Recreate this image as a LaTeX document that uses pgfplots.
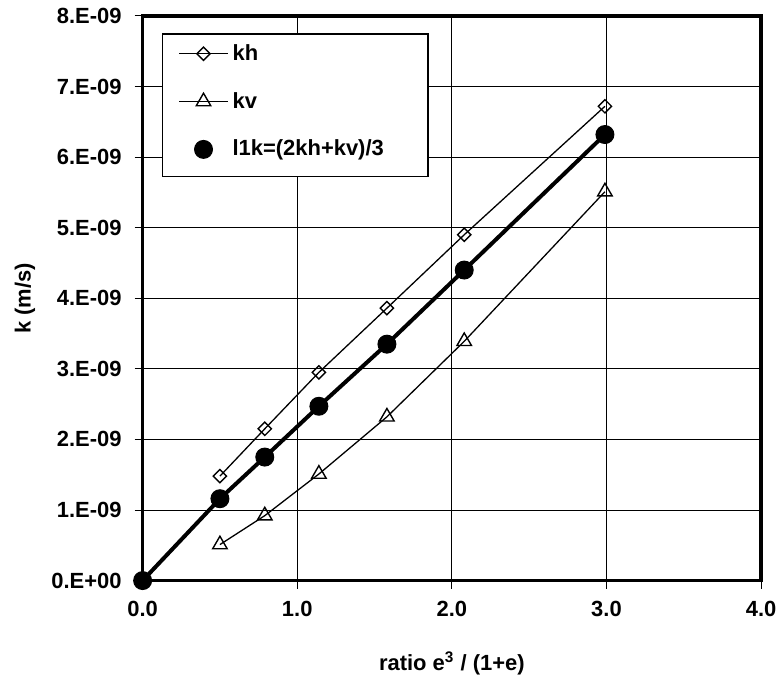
\documentclass[border=0pt]{standalone}
\usepackage{fontspec}
\setmainfont{Liberation Sans}
\usepackage{pgfplots}
\pgfplotsset{compat=1.18}
\begin{document}
\begin{tikzpicture}
\begin{axis}[
  scale only axis, width=310pt, height=283pt,
  xmin=0, xmax=4, ymin=0, ymax=8e-9,
  xtick={0,1,2,3,4},
  xticklabels={0.0,1.0,2.0,3.0,4.0},
  ytick={0,1e-9,2e-9,3e-9,4e-9,5e-9,6e-9,7e-9,8e-9},
  yticklabels={0.E+00,1.E-09,2.E-09,3.E-09,4.E-09,5.E-09,6.E-09,7.E-09,8.E-09},
  scaled y ticks=false, scaled x ticks=false,
  xtick pos=bottom, ytick pos=left,
  grid=major, major grid style={black, line width=0.5pt},
  axis line style={line width=1.75pt},
  tick align=outside, major tick length=4pt,
  tick style={black, line width=0.5pt},
  tick label style={font=\fontsize{11}{13}\selectfont\bfseries},
  xticklabel style={yshift=-3pt},
  yticklabel style={xshift=-3pt},
  label style={font=\fontsize{11}{13}\selectfont\bfseries},
  xlabel={ratio e\textsuperscript{3} / (1+e)},
  ylabel={k (m/s)},
  xlabel style={at={(rel axis cs:0.5,0)}, anchor=center, yshift=-41.5pt},
  ylabel style={at={(rel axis cs:0,0.5)}, anchor=center, yshift=59pt},
  clip=false,
  legend cell align=left,
  legend style={at={(0.0323,0.9682)}, anchor=north west, draw=none,
    fill=none, font=\fontsize{11}{13}\selectfont\bfseries,
    row sep=10.5pt, inner ysep=3pt, inner xsep=7.75pt},
  legend image code/.code={\draw[mark repeat=2,mark phase=2] plot coordinates {(0cm,0cm) (0.43cm,0cm) (0.86cm,0cm)};},
]
\draw[black, line width=0.6pt, fill=white] (rel axis cs:0.0323,0.9682) rectangle (rel axis cs:0.4613,0.7155);
\addplot[black, line width=0.65pt, mark=square, mark size=2.35pt, mark options={fill=white, solid, line width=0.7pt, rotate=45}]
  coordinates {(0.50,1.48e-9) (0.79,2.15e-9) (1.14,2.95e-9) (1.58,3.86e-9) (2.08,4.90e-9) (2.99,6.72e-9)};
\addlegendentry{kh}
\addplot[black, line width=0.65pt, mark=triangle, mark size=4.2pt, mark options={fill=white, solid, line width=0.7pt}]
  coordinates {(0.50,0.51e-9) (0.79,0.92e-9) (1.14,1.51e-9) (1.58,2.32e-9) (2.08,3.39e-9) (2.99,5.51e-9)};
\addlegendentry{kv}
\addplot[black, line width=2pt, mark=*, mark size=4.5pt, mark options={fill=black, solid, line width=0.5pt},
  legend image code/.code={\draw[mark=*, mark size=4.5pt, fill=black, line width=0.5pt] plot coordinates {(0.43cm,0cm)};}]
  coordinates {(0,0) (0.50,1.16e-9) (0.79,1.75e-9) (1.14,2.47e-9) (1.58,3.35e-9) (2.08,4.40e-9) (2.99,6.32e-9)};
\addlegendentry{l1k=(2kh+kv)/3}
\path (rel axis cs:-0.2306,-0.1749) (rel axis cs:1.0323,1.0283);
\end{axis}
\end{tikzpicture}
\end{document}
